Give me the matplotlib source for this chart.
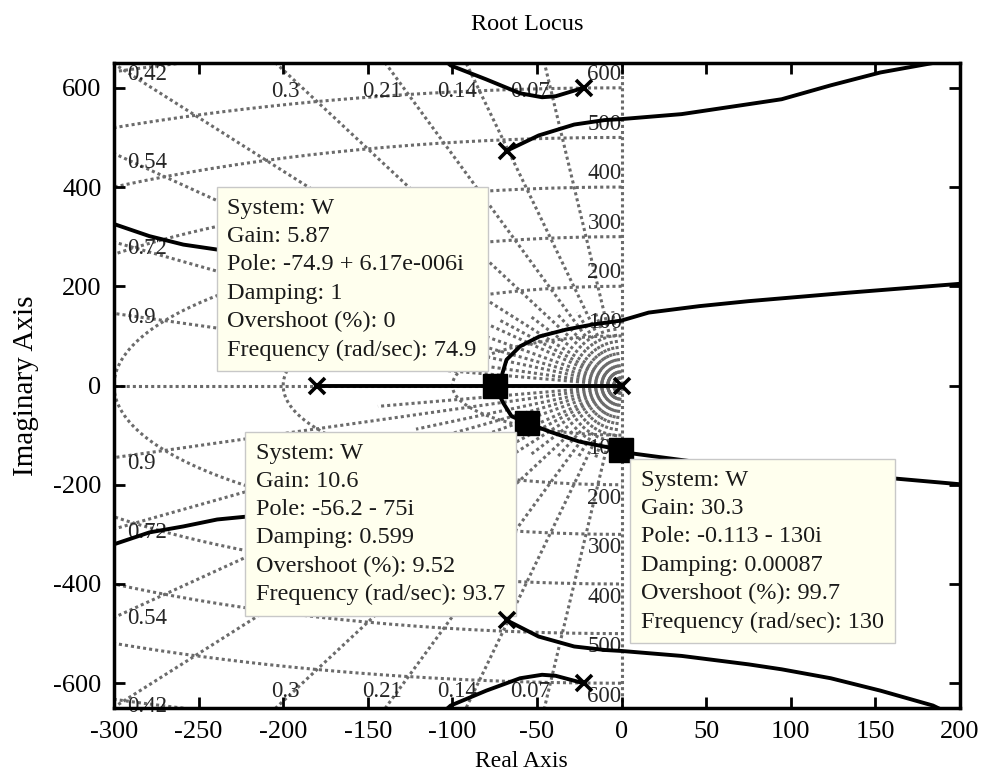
import numpy as np
import matplotlib
matplotlib.use("Agg")
import matplotlib.pyplot as plt

plt.rcParams["font.family"] = ["Liberation Serif", "DejaVu Serif"]
plt.rcParams["axes.unicode_minus"] = False

# sgrid: damping ratios and natural frequencies
zeta_lines = [0.07, 0.14, 0.21, 0.3, 0.42, 0.54, 0.72, 0.9]
zeta_fine = [0.035, 0.105, 0.175, 0.255, 0.36, 0.48, 0.63, 0.81, 0.96]
wn_arcs = [100, 200, 300, 400, 500, 600, 700]
wn_labels = [100, 200, 300, 400, 500, 600]

# open-loop poles
pole_re = [-180, 0, -68, -68, -22, -22]
pole_im = [0, 0, 473, -473, 600, -600]

# locus branches
real_re = [-180, -74.9, 0]
real_im = [0, 0, 0]

upA_re = [-22.5, -39, -47, -60, -80, -101, -106]
upA_im = [600, 583, 581, 589, 617, 645, 660]
loA_re = [-22.5, -39, -47, -60, -80, -101, -106]
loA_im = [-600, -585, -583, -590, -615, -645, -660]

upB_re = [-68, -49, -28, -10, 0, 35.5, 75, 94.6, 123.6, 153, 185.6, 190]
upB_im = [473, 504, 526, 535, 537, 547, 567, 577, 605, 631, 651, 655]
loB_re = [-68, -49, -28, -10, 0, 35.5, 75, 94.6, 123.6, 153, 184, 190]
loB_im = [-473, -506, -526, -533, -535, -545, -562, -572, -590, -615, -645, -655]

upC_re = [-74.9, -71, -68, -60, -48.5, -32.5, -17, 0, 16, 46, 75, 133.6, 200]
upC_im = [0, 18, 52, 79, 99, 113, 123, 131, 147, 160, 170, 187, 205]
loC_re = [-74.9, -70, -65, -56.2, -42.5, -25, -0.113, 6.5, 39.6, 100, 160, 200]
loC_im = [0, -35, -62, -75, -93, -113, -130, -137, -152, -172, -187, -199]

upD_re = [-310, -299.6, -279, -259, -239, -215, -195]
upD_im = [330, 325, 301, 284, 274, 266, 260]
loD_re = [-310, -300, -279, -259, -239, -221, -200]
loD_im = [-325, -320, -296, -284, -270, -264, -258]

# data tips
tip_re = [-74.9, -56.2, -0.113]
tip_im = [6.17e-6, -75, -130]
tip_text = [
    "System: W\nGain: 5.87\nPole: -74.9 + 6.17e-006i\nDamping: 1\nOvershoot (%): 0\nFrequency (rad/sec): 74.9",
    "System: W\nGain: 10.6\nPole: -56.2 - 75i\nDamping: 0.599\nOvershoot (%): 9.52\nFrequency (rad/sec): 93.7",
    "System: W\nGain: 30.3\nPole: -0.113 - 130i\nDamping: 0.00087\nOvershoot (%): 99.7\nFrequency (rad/sec): 130",
]

fig = plt.figure(figsize=(9.81, 7.76), dpi=100)
ax = fig.add_axes([0.1162, 0.0876, 0.8624, 0.8312])
ax.set_xlim(-300, 200)
ax.set_ylim(-650, 650)

grid_kw = dict(color="0.42", lw=2.2, ls=(0, (1, 1)), zorder=1)
lab_kw = dict(fontsize=16.5, color="0.15", zorder=2)

# damping lines
for z in zeta_lines:
    th = np.arccos(z)
    r = np.array([0, 2000])
    ax.plot(-r * np.cos(th), r * np.sin(th), **grid_kw)
    ax.plot(-r * np.cos(th), -r * np.sin(th), **grid_kw)
    s = np.tan(th)
    if 292 * s < 650:
        ax.text(-292, 292 * s - 5, f"{z:g}", ha="left", va="center", **lab_kw)
        ax.text(-292, -292 * s - 15, f"{z:g}", ha="left", va="center", **lab_kw)
    else:
        ax.text(-605 / s, 593, f"{z:g}", ha="right", va="center", **lab_kw)
        ax.text(-605 / s, -617, f"{z:g}", ha="right", va="center", **lab_kw)

for z in zeta_fine:
    th = np.arccos(z)
    r = np.array([0, 150])
    ax.plot(-r * np.cos(th), r * np.sin(th), **grid_kw)
    ax.plot(-r * np.cos(th), -r * np.sin(th), **grid_kw)

# natural frequency arcs
t = np.linspace(np.pi / 2, 3 * np.pi / 2, 400)
for w in wn_arcs:
    ax.plot(w * np.cos(t), w * np.sin(t), **grid_kw)
for w in wn_labels:
    ax.text(0, w + 27, str(w), ha="right", va="center", **lab_kw)
    ax.text(0, -w - 27, str(w), ha="right", va="center", **lab_kw)

ax.plot([-300, 0], [0, 0], **grid_kw)
ax.plot([0, 0], [-650, 650], **grid_kw)

# root locus
loc_kw = dict(color="black", lw=2.8, zorder=3, solid_capstyle="butt")
for xs, ys in [(real_re, real_im), (upA_re, upA_im), (loA_re, loA_im),
               (upB_re, upB_im), (loB_re, loB_im), (upC_re, upC_im),
               (loC_re, loC_im), (upD_re, upD_im), (loD_re, loD_im)]:
    ax.plot(xs, ys, **loc_kw)

ax.plot(pole_re, pole_im, "x", color="black", ms=11, mew=2.6, zorder=7)
ax.plot(tip_re, tip_im, "s", color="black", ms=17, zorder=5)

offsets = [(-18, 25), (-21, -20), (20, -20)]
aligns = [("right", "bottom"), ("right", "top"), ("left", "top")]
for x, y, txt, off, (ha, va) in zip(tip_re, tip_im, tip_text, offsets, aligns):
    ax.annotate(txt, xy=(x, y), xytext=off, textcoords="offset pixels",
                ha=ha, va=va, multialignment="left", fontsize=17.5,
                color="#1a1a1a", zorder=6, linespacing=1.45,
                bbox=dict(boxstyle="square,pad=0.45", fc="#FFFFEE",
                          ec="#C8C8C8", lw=1))

ax.set_xticks(np.arange(-300, 201, 50))
ax.set_yticks(np.arange(-600, 601, 200))
ax.tick_params(direction="in", length=8, width=2, top=True, right=True,
               labelsize=19, pad=9, colors="black")
for sp in ax.spines.values():
    sp.set_linewidth(2.5)

ax.set_title("Root Locus", fontsize=17.5, pad=24, x=0.489)
ax.set_xlabel("Real Axis", fontsize=17, labelpad=6, x=0.481)
ax.set_ylabel("Imaginary Axis", fontsize=21, labelpad=10)

fig.savefig("out.png", dpi=100)
